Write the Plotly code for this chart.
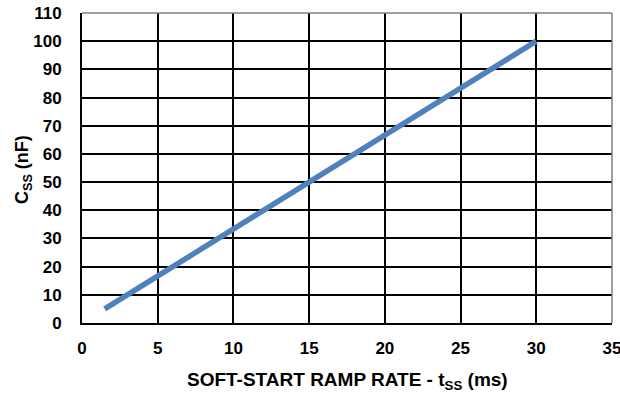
import plotly.graph_objects as go

# Soft-start capacitor vs ramp time
t_ss = [1.5, 5, 10, 15, 20, 25, 30]
c_ss = [5, 16.7, 33.3, 50, 66.7, 83.3, 100]

x_ticks = [0, 5, 10, 15, 20, 25, 30, 35]
y_ticks = [0, 10, 20, 30, 40, 50, 60, 70, 80, 90, 100, 110]

tick_font = dict(family='Liberation Sans, Arial', size=17, color='black', weight='bold')

fig = go.Figure(go.Scatter(x=t_ss, y=c_ss, mode='lines',
                           line=dict(color='#4F81BD', width=5.5),
                           hoverinfo='skip'))

fig.update_layout(
    width=620, height=396,
    margin=dict(l=82, r=8, t=13, b=73),
    paper_bgcolor='white', plot_bgcolor='white',
    showlegend=False,
    font=dict(family='Liberation Sans, Arial', color='black'),
    xaxis=dict(range=[0, 35], tickvals=x_ticks, showgrid=True, gridcolor='black', gridwidth=1.5,
               showline=True, linecolor='black', linewidth=2, automargin=False,
               zeroline=False, ticks='outside', ticklen=9, tickcolor='rgba(0,0,0,0)',
               tickfont=tick_font, ticklabeloverflow='allow'),
    yaxis=dict(range=[0, 110], tickvals=y_ticks, showgrid=True, gridcolor='black', gridwidth=1.5,
               showline=True, linecolor='black', linewidth=2, automargin=False,
               zeroline=False, ticks='', tickfont=tick_font, ticklabelstandoff=15,
               ticklabeloverflow='allow'),
)

# axis titles
fig.add_annotation(text='<b>SOFT-START RAMP RATE - t<sub>SS</sub> (ms)</b>',
                   xref='paper', yref='paper', x=0.5, y=0, yanchor='middle',
                   yshift=-58, showarrow=False, font=dict(size=19))
fig.add_annotation(text='<b>C<sub>SS</sub> (nF)</b>', textangle=-90,
                   xref='paper', yref='paper', x=0, y=0.5, xanchor='center',
                   xshift=-59, yshift=-2, showarrow=False, font=dict(size=18))

# gray frame on top and right of the plot area
fig.add_shape(type='line', xref='paper', yref='paper', x0=0, x1=1, y0=1, y1=1,
              line=dict(color='#808080', width=1.5))
fig.add_shape(type='line', xref='paper', yref='paper', x0=1, x1=1, y0=0, y1=1,
              line=dict(color='#808080', width=1.5))

# drop the default page margin so the figure fills the window
fig.write_html("out.html", config={'displayModeBar': False},
               post_script="document.body.style.margin='0';")
